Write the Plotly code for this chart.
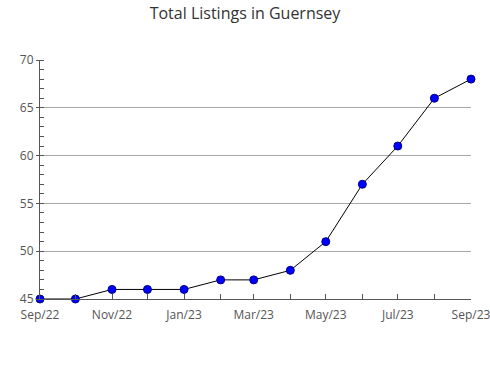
import plotly.graph_objects as go

months = ["2022-09-01", "2022-10-01", "2022-11-01", "2022-12-01", "2023-01-01",
          "2023-02-01", "2023-03-01", "2023-04-01", "2023-05-01", "2023-06-01",
          "2023-07-01", "2023-08-01", "2023-09-01"]
listings = [45, 45, 46, 46, 46, 47, 47, 48, 51, 57, 61, 66, 68]
tick_months = ["2022-09-01", "2022-11-01", "2023-01-01", "2023-03-01",
               "2023-05-01", "2023-07-01", "2023-09-01"]
tick_labels = ["Sep/22", "Nov/22", "Jan/23", "Mar/23", "May/23", "Jul/23", "Sep/23"]

fig = go.Figure()
fig.add_trace(go.Scatter(
    x=months, y=listings, mode="lines+markers",
    line=dict(color="black", width=1),
    marker=dict(color="#0000ff", size=8, line=dict(color="#000080", width=1)),
    cliponaxis=False,
))

font = "Open Sans, Noto Sans, sans-serif"
fig.update_layout(
    width=490, height=380,
    margin=dict(l=40, r=19, t=60, b=81),
    paper_bgcolor="white", plot_bgcolor="white",
    showlegend=False,
    title=dict(text="Total Listings in Guernsey", x=0.5, xanchor="center",
               y=0.965, yanchor="middle",
               font=dict(family=font, size=16, color="#333333")),
    font=dict(family=font, size=12, color="#555555"),
    xaxis=dict(
        type="date", range=["2022-09-01", "2023-09-01"],
        tickmode="array", tickvals=tick_months, ticktext=tick_labels,
        ticks="inside", ticklen=5, tickcolor="#555555",
        ticklabeloverflow="allow", automargin=False, ticklabelstandoff=5,
        showgrid=False, showline=True, linecolor="#555555", linewidth=1,
        minor=dict(tickmode="array", tickvals=months, ticks="inside", ticklen=5,
                   tickcolor="#555555", showgrid=False),
        tickfont=dict(family=font, size=12, color="#555555"),
        zeroline=False,
    ),
    yaxis=dict(
        range=[45, 70], dtick=5, tick0=45,
        ticks="outside", ticklen=3, tickcolor="#555555",
        automargin=False,
        showgrid=True, gridcolor="#aaaaaa", gridwidth=1,
        showline=True, linecolor="#555555", linewidth=1,
        minor=dict(dtick=1, ticks="inside", ticklen=4, tickcolor="#555555", showgrid=False),
        tickfont=dict(family=font, size=12, color="#555555"),
        zeroline=False,
    ),
)

fig.write_html("out.html")
